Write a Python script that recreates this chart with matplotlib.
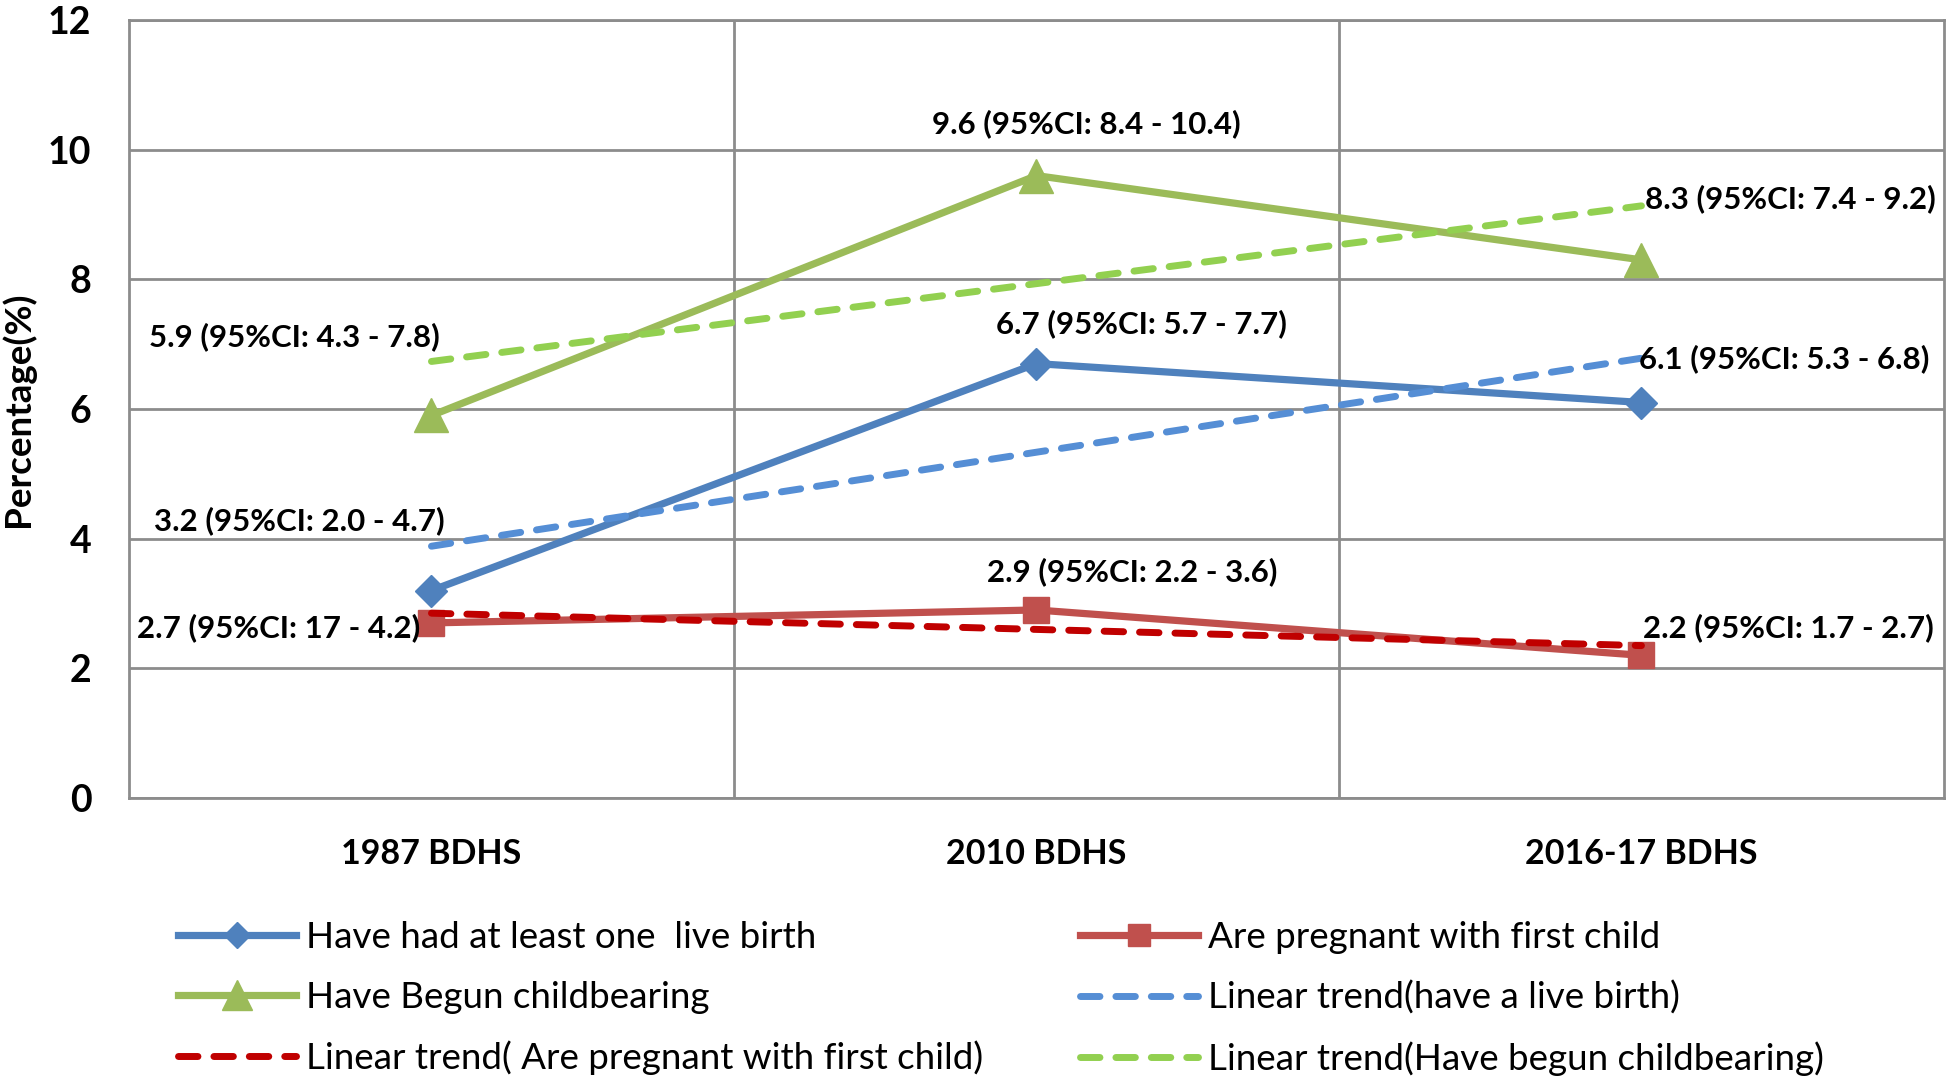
import matplotlib
matplotlib.use("Agg")
import matplotlib.pyplot as plt
import numpy as np

plt.rcParams['font.family'] = ['Lato', 'DejaVu Sans']

# survey rounds and series (percent)
surveys = ["1987 BDHS", "2010 BDHS", "2016-17 BDHS"]
live_birth = [3.2, 6.7, 6.1]
pregnant = [2.7, 2.9, 2.2]
begun = [5.9, 9.6, 8.3]

live_ci = ["3.2 (95%CI: 2.0 - 4.7)", "6.7 (95%CI: 5.7 - 7.7)", "6.1 (95%CI: 5.3 - 6.8)"]
preg_ci = ["2.7 (95%CI: 17 - 4.2)", "2.9 (95%CI: 2.2 - 3.6)", "2.2 (95%CI: 1.7 - 2.7)"]
begun_ci = ["5.9 (95%CI: 4.3 - 7.8)", "9.6 (95%CI: 8.4 - 10.4)", "8.3 (95%CI: 7.4 - 9.2)"]

c_blue, c_red, c_green = "#4F81BD", "#C0504D", "#9BBB59"
t_blue, t_red, t_green = "#558ED5", "#C00000", "#92D050"
grid_c = "#8C8C8C"

fig = plt.figure(figsize=(19.51, 10.76), dpi=100)
ax = fig.add_axes([0.0661, 0.2584, 0.9303, 0.723])

x = np.arange(len(surveys))

def trend(vals):
    k, b = np.polyfit(x, vals, 1)
    return k * x + b

lw = 5.2
l1, = ax.plot(x, live_birth, color=c_blue, lw=lw, marker="D", ms=16, zorder=4)
l2, = ax.plot(x, pregnant, color=c_red, lw=lw, marker="s", ms=19, zorder=4)
l3, = ax.plot(x, begun, color=c_green, lw=lw, marker="^", ms=25, zorder=4)

dash = dict(lw=5, dashes=(2.8, 2.3), dash_capstyle="round", zorder=5)
t1, = ax.plot(x, trend(live_birth), color=t_blue, **dash)
t2, = ax.plot(x, trend(pregnant), color=t_red, **dash)
t3, = ax.plot(x, trend(begun), color=t_green, **dash)

# labels: offsets (pixels) from each point
px = 0.72
def lab(i, v, s, dx, dy, ha):
    ax.annotate(s, (i, v), xytext=(dx * px, dy * px), textcoords="offset points",
                ha=ha, va="center", fontsize=22.5, fontweight="bold", zorder=6)

lab(0, begun[0], begun_ci[0], 8, 79, "right")
lab(0, live_birth[0], live_ci[0], 13, 70, "right")
lab(0, pregnant[0], preg_ci[0], -11, -5, "right")
lab(1, begun[1], begun_ci[1], 50, 52, "center")
lab(1, live_birth[1], live_ci[1], 105, 40, "center")
lab(1, pregnant[1], preg_ci[1], 96, 38, "center")
lab(2, begun[2], begun_ci[2], 4, 61, "left")
lab(2, live_birth[2], live_ci[2], -2, 44, "left")
lab(2, pregnant[2], preg_ci[2], 2, 28, "left")

ax.set_xlim(-0.5, 2.5)
ax.set_ylim(0, 12)
ax.set_yticks(range(0, 13, 2))
ax.set_xticks(x)
ax.set_xticklabels(surveys)
ax.set_xticks([0.5, 1.5], minor=True)
ax.grid(True, axis="y", color=grid_c, lw=2)
ax.grid(True, axis="x", which="minor", color=grid_c, lw=2)
ax.set_axisbelow(True)
for sp in ax.spines.values():
    sp.set_color(grid_c)
    sp.set_linewidth(2)
ax.tick_params(axis="both", which="both", length=0)
ax.tick_params(axis="y", labelsize=27, pad=27)
ax.tick_params(axis="x", labelsize=24.5, pad=29)
for t in ax.get_xticklabels() + ax.get_yticklabels():
    t.set_fontweight("bold")
ax.set_ylabel("Percentage(%)", fontsize=26.5, fontweight="bold")
ax.yaxis.set_label_coords(-0.0515, 0.5)

leg_kw = dict(frameon=False, fontsize=26.5, handlelength=3.2, handletextpad=0.28,
              labelspacing=0.72, borderpad=0, borderaxespad=0, loc="upper left")
leg1 = fig.legend([l1, l3, t2],
                  ["Have had at least one  live birth", "Have Begun childbearing",
                   "Linear trend( Are pregnant with first child)"],
                  bbox_to_anchor=(178 / 1951, 1 - 921 / 1076), **leg_kw)
leg2 = fig.legend([l2, t1, t3],
                  ["Are pregnant with first child", "Linear trend(have a live birth)",
                   "Linear trend(Have begun childbearing)"],
                  bbox_to_anchor=(1080 / 1951, 1 - 921 / 1076), **leg_kw)
for lg in (leg1, leg2):
    for h in lg.legend_handles:
        if h.get_marker() not in (None, "None", ""):
            h.set_markersize(h.get_markersize() * 0.85)

fig.savefig("out.png", dpi=100)
